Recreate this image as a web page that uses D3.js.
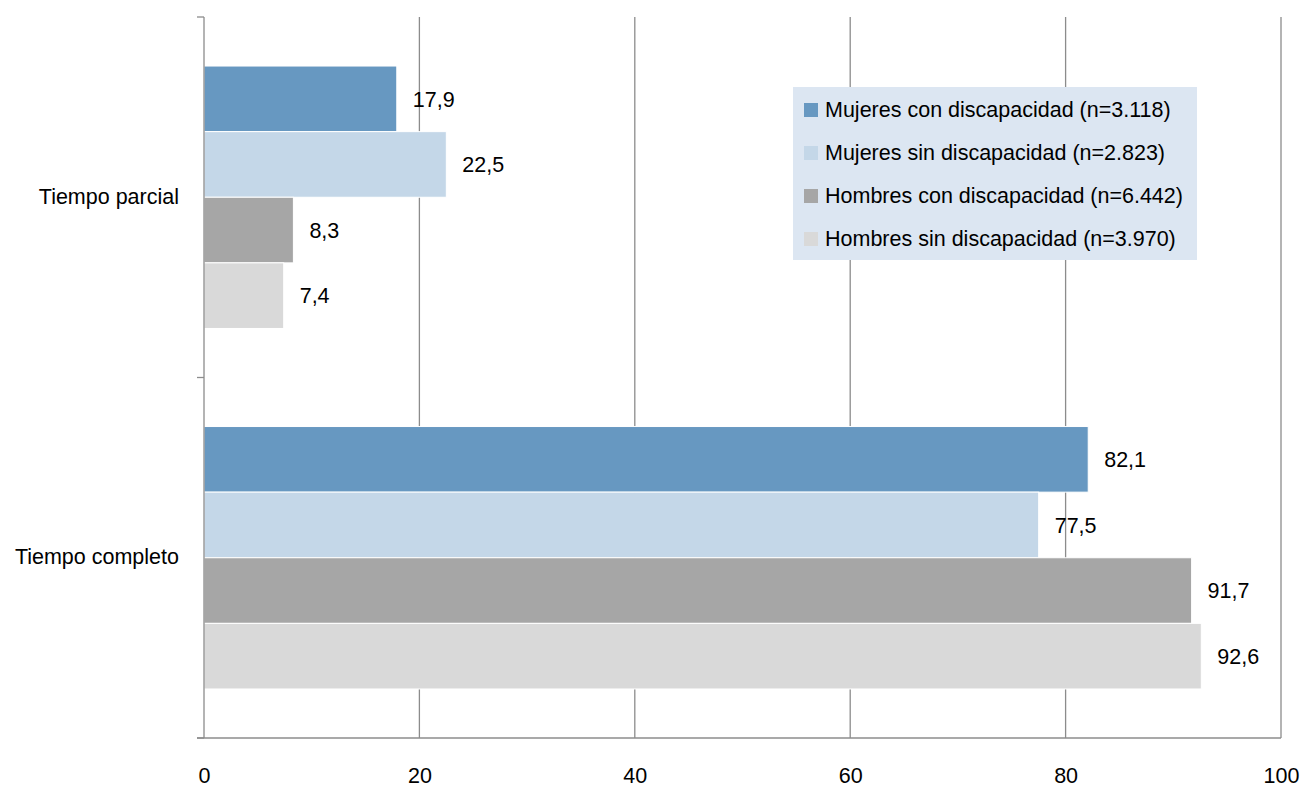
<!DOCTYPE html>
<html><head><meta charset="utf-8">
<script src="https://cdn.jsdelivr.net/npm/d3@7"></script>
<style>body{margin:0;background:#fff}svg{display:block}text{font-family:"Liberation Sans",Arial,sans-serif;fill:#000}</style>
</head><body><svg id="c" width="1303" height="790"></svg>
<script>
const categories = ["Tiempo parcial", "Tiempo completo"];
const seriesNames = ["Mujeres con discapacidad (n=3.118)", "Mujeres sin discapacidad (n=2.823)", "Hombres con discapacidad (n=6.442)", "Hombres sin discapacidad (n=3.970)"];
const mujeresCon = [17.9, 82.1];
const mujeresSin = [22.5, 77.5];
const hombresCon = [8.3, 91.7];
const hombresSin = [7.4, 92.6];
const xTicks = [0, 20, 40, 60, 80, 100];
const colors = ["#6798c1", "#c4d7e8", "#a6a6a6", "#d9d9d9"];

const FS = 21.5;
const seriesVals = [mujeresCon, mujeresSin, hombresCon, hombresSin];
const svg = d3.select("#c");
const L = 204, R = 1281, T = 17, B = 738;
const x = d3.scaleLinear().domain([0, 100]).range([L, R]);
const y0 = d3.scaleBand().domain(categories).range([T, B]).paddingInner(0.272).paddingOuter(0.136);
const y1 = d3.scaleBand().domain(d3.range(4)).range([0, y0.bandwidth()]);

// gridlines
svg.append("g").selectAll("line").data(xTicks.filter(d => d > 0)).join("line")
  .attr("x1", d => x(d)).attr("x2", d => x(d)).attr("y1", T).attr("y2", B)
  .attr("stroke", "#8c8c8c").attr("stroke-width", 1.3);

// bars
const g = svg.append("g");
categories.forEach((c, ci) => {
  seriesVals.forEach((vals, si) => {
    g.append("rect").attr("x", x(0)).attr("y", y0(c) + y1(si))
      .attr("width", x(vals[ci]) - x(0)).attr("height", y1.bandwidth())
      .attr("fill", colors[si]).attr("stroke", "#fff").attr("stroke-width", 1);
    g.append("text").attr("x", x(vals[ci]) + 16).attr("y", y0(c) + y1(si) + y1.bandwidth() / 2 + 2)
      .attr("dominant-baseline", "middle").attr("font-size", FS)
      .text(d3.format(".1f")(vals[ci]).replace(".", ","));
  });
});

// y axis
const yAxisG = svg.append("g");
yAxisG.append("line").attr("x1", L).attr("x2", L).attr("y1", T).attr("y2", B).attr("stroke", "#8c8c8c").attr("stroke-width", 1.3);
const yTickPos = [T, (T + B) / 2, B];
yAxisG.selectAll("line.t").data(yTickPos).join("line").attr("class", "t")
  .attr("x1", L - 7).attr("x2", L).attr("y1", d => d).attr("y2", d => d).attr("stroke", "#8c8c8c").attr("stroke-width", 1.3);
const yBandCenter = d3.scaleBand().domain(categories).range([T, B]);
yAxisG.selectAll("text").data(categories).join("text")
  .attr("x", 179).attr("y", d => yBandCenter(d) + yBandCenter.bandwidth() / 2 + 1)
  .attr("text-anchor", "end").attr("dominant-baseline", "middle").attr("font-size", FS).text(d => d);

// x axis
const xAxis = d3.axisBottom(x).tickValues(xTicks).tickSize(0).tickPadding(30).tickFormat(d3.format("d"));
const xg = svg.append("g").attr("transform", `translate(0,${B})`).call(xAxis);
xg.select(".domain").attr("stroke", "#8c8c8c").attr("stroke-width", 1.3).attr("d", `M${L - 7},0H${R}`);
xg.selectAll("text").attr("font-size", FS).attr("font-family", '"Liberation Sans",Arial,sans-serif').attr("fill", "#000");

// legend
const lg = svg.append("g");
lg.append("rect").attr("x", 793).attr("y", 87).attr("width", 404).attr("height", 173).attr("fill", "#dce6f2");
seriesNames.forEach((n, i) => {
  const cy = 110 + i * 43;
  lg.append("rect").attr("x", 804).attr("y", cy - 7).attr("width", 14).attr("height", 14).attr("fill", colors[i]);
  lg.append("text").attr("x", 825).attr("y", cy + 1).attr("dominant-baseline", "middle").attr("font-size", FS).text(n);
});
</script></body></html>
